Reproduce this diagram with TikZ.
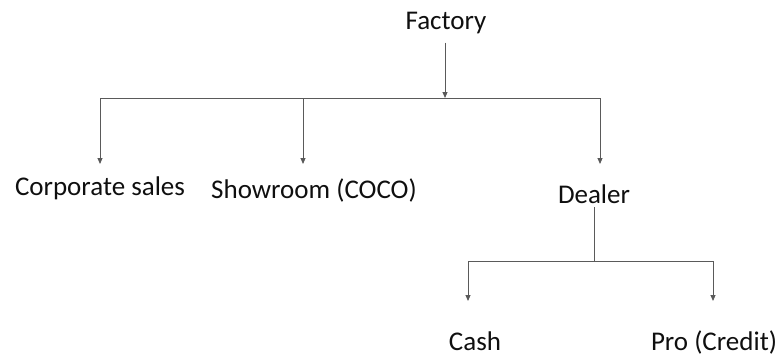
\documentclass[tikz,border=0pt]{standalone}
\usepackage{fontspec}
\setmainfont{Carlito}
\usetikzlibrary{arrows.meta}
\definecolor{linegray}{RGB}{90,90,90}
\definecolor{textgray}{RGB}{15,15,15}
\begin{document}
\begin{tikzpicture}[x=1pt,y=-1pt,
  label/.style={anchor=base,inner sep=0pt,text=textgray,font=\fontsize{27}{32}\selectfont},
  link/.style={draw=linegray,line width=0.9pt},
  arrowlink/.style={link,-{Triangle[length=6pt,width=5pt]}}]
  \useasboundingbox (0,0) rectangle (783,362);

  % labels
  \node[label] (factory) at (446,29) {Factory};
  \node[label] (corp) at (100,195) {Corporate sales};
  \node[label] (show) at (314,198) {Showroom (COCO)};
  \node[label] (dealer) at (594,203) {Dealer};
  \node[label] (cash) at (475,350) {Cash};
  \node[label] (pro) at (714,350) {Pro (Credit)};

  % junction points
  \coordinate (fj) at (445,98);
  \coordinate (fl) at (100,98);
  \coordinate (fm) at (303,98);
  \coordinate (fr) at (600,98);
  \coordinate (dj) at (594,261);
  \coordinate (dl) at (468,261);
  \coordinate (dr) at (713,261);

  % factory branch
  \draw[arrowlink] (factory.south -| fj) ++(0,9) -- (fj);
  \draw[link] (fl) -- (fr);
  \draw[arrowlink] (fl) -- (100,164);
  \draw[arrowlink] (fm) -- (303,164);
  \draw[arrowlink] (fr) -- (600,164);

  % dealer branch
  \draw[link] (dealer.south) ++(0,4) -- (dj);
  \draw[link] (dl) -- (dr);
  \draw[arrowlink] (dl) -- (468,301);
  \draw[arrowlink] (dr) -- (713,301);
\end{tikzpicture}
\end{document}
